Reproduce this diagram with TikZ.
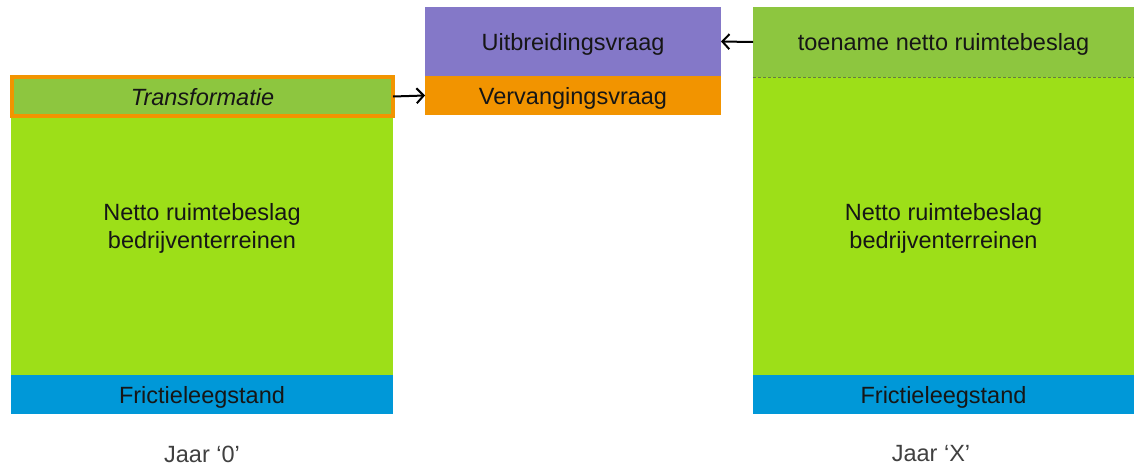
\documentclass[tikz,border=0pt]{standalone}
\usepackage{fontspec}
\setmainfont{Liberation Sans}
\usetikzlibrary{arrows.meta}
\definecolor{lime}{RGB}{157,223,24}
\definecolor{leafgreen}{RGB}{141,198,63}
\definecolor{pumpkin}{RGB}{242,148,0}
\definecolor{lavender}{RGB}{132,120,200}
\definecolor{sky}{RGB}{0,152,216}
\definecolor{ink}{RGB}{22,22,22}
\definecolor{dashgrey}{RGB}{100,125,70}
\tikzset{
  txt/.style={inner sep=0pt, outer sep=0pt, font=\fontsize{23.5}{28}\selectfont, text=ink, align=center},
  box/.style={txt, rectangle, anchor=north west, text depth=0pt},
  caption/.style={txt, text=black!75},
  link/.style={draw=black, line width=2pt, -{Straight Barb[length=7pt,width=15pt,line width=2pt]}}
}
\begin{document}
\begin{tikzpicture}[x=1pt,y=-1pt]
  \useasboundingbox (0,0) rectangle (1134,466);

  % year 0 column
  \node[box, fill=lime, minimum width=382pt, minimum height=258pt] (body0) at (11,117) {};
  \node[box, fill=sky, minimum width=382pt, minimum height=39pt] (fric0) at (11,375) {Frictieleegstand};
  \node[box, fill=leafgreen, draw=pumpkin, line width=3.5pt, minimum width=381pt, minimum height=39pt] (trans) at (12,77) {\itshape Transformatie};
  \node[txt] (netto0) at (202,228.5) {Netto ruimtebeslag\\bedrijventerreinen};
  \node[caption] (jaar0) at (202,454) {Jaar ‘0’};

  % demand blocks in the middle
  \node[box, fill=lavender, minimum width=296pt, minimum height=69pt] (uit) at (425,7) {Uitbreidingsvraag};
  \node[box, fill=pumpkin, minimum width=296pt, minimum height=39pt] (verv) at (425,76) {Vervangingsvraag};

  % year X column
  \node[box, fill=leafgreen, minimum width=381pt, minimum height=70pt] (toename) at (753,7) {toename netto ruimtebeslag};
  \node[box, fill=lime, minimum width=381pt, minimum height=298pt] (bodyX) at (753,77) {};
  \node[box, fill=sky, minimum width=381pt, minimum height=39pt] (fricX) at (753,375) {Frictieleegstand};
  \node[txt] (nettoX) at (943.5,228.5) {Netto ruimtebeslag\\bedrijventerreinen};
  \node[caption] (jaarX) at (931,454) {Jaar ‘X’};
  \draw[dashgrey, line width=0.8pt, dash pattern=on 3pt off 2pt] (toename.south west) -- (toename.south east);

  % flows into the demand blocks
  \draw[link] (trans.east) -- (verv.west);
  \draw[link] (toename.west) -- (uit.east);
\end{tikzpicture}
\end{document}
